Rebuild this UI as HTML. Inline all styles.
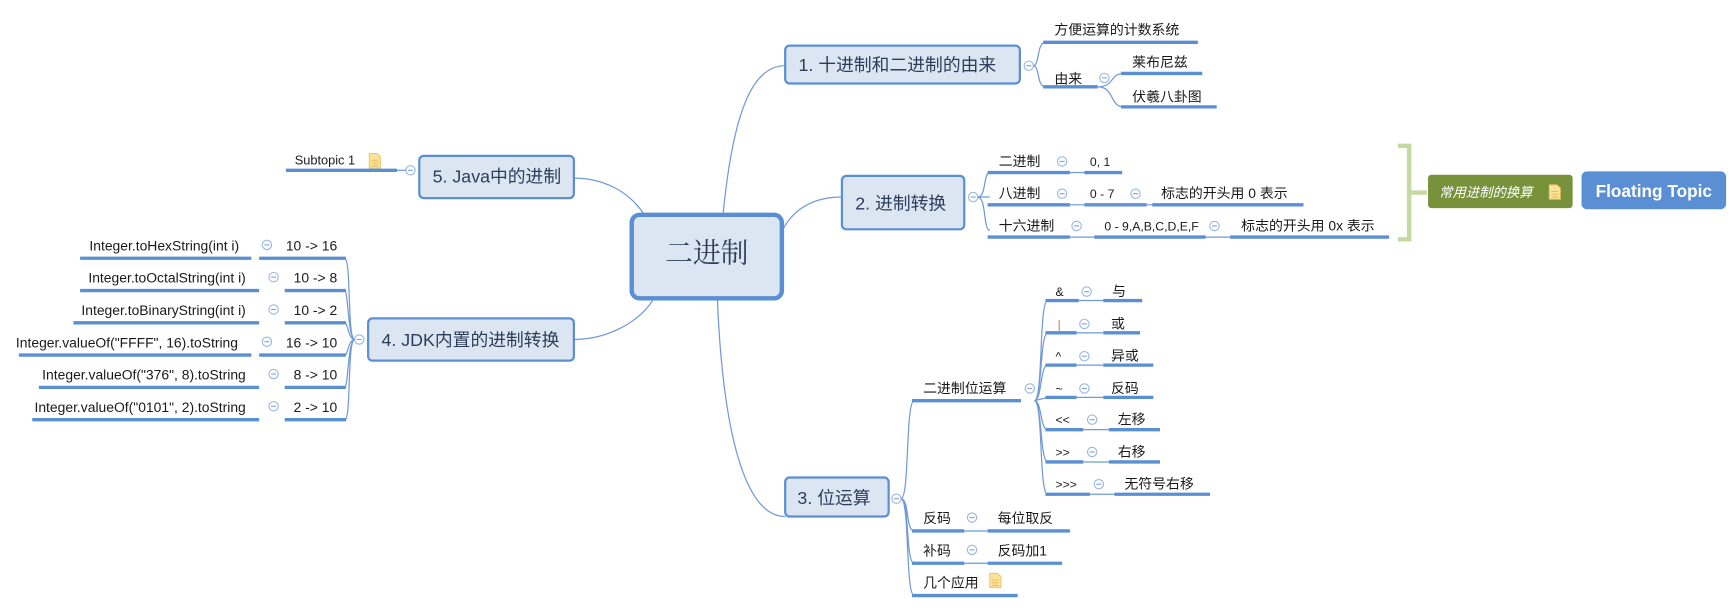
<!DOCTYPE html>
<html><head><meta charset="utf-8"><style>
html,body{margin:0;padding:0;background:#fff;}
svg{display:block;}
text{font-family:"Liberation Sans","Noto Sans CJK SC",sans-serif;fill:#1a1a1a;font-size:12.5px;}
.u{stroke:#5b8fd4;stroke-width:3;}
.c{fill:none;stroke:#6f9ad6;stroke-width:1.1;}
.m{fill:#fff;stroke:#9ab6e2;stroke-width:1;}
.mm{stroke:#7fa2dc;stroke-width:1;}
.n{fill:#dce6f2;stroke:#5b8fd4;stroke-width:2;}
.t{font-size:16px;fill:#2c3e5c;}
</style></head><body>
<svg width="1735" height="610" viewBox="0 0 1560 548" preserveAspectRatio="none" xmlns="http://www.w3.org/2000/svg">
<defs>
<g id="mn"><circle r="4.2" class="m"/><line x1="-2.3" x2="2.3" class="mm"/></g>
<g id="note"><path d="M0 0h7l3 3v10h-10z" fill="#fbe29a" stroke="#e8c060" stroke-width="0.8"/><line x1="2" y1="6" x2="8" y2="6" stroke="#e8c060"/><line x1="2" y1="8.5" x2="8" y2="8.5" stroke="#e8c060"/><line x1="2" y1="11" x2="8" y2="11" stroke="#e8c060"/></g>
</defs>

<!-- main connectors -->
<path class="c" d="M650 194 C660 90 680 59 706 59"/>
<path class="c" d="M704 206 C715 185 735 177 757 177"/>
<path class="c" d="M580 194 C565 170 540 160 516 160"/>
<path class="c" d="M588 268 C575 290 545 305 516 305"/>
<path class="c" d="M645 268 C650 390 670 464 706 464"/>

<!-- central -->
<rect x="568" y="193" width="135" height="75" rx="7" fill="#dce6f2" stroke="#5b8fd4" stroke-width="4"/>
<text x="635.5" y="236" text-anchor="middle" style="font-size:25px;fill:#2c3e5c;font-family:'Liberation Serif','Noto Serif CJK SC',serif">二进制</text>

<!-- node 1 -->
<rect class="n" x="706" y="41" width="211" height="34" rx="4"/>
<text class="t" x="718" y="64">1. 十进制和二进制的由来</text>
<use href="#mn" x="925" y="59"/>
<path class="c" d="M929 59 C935 59 932 38 940 38 M929 59 C935 59 932 78 940 78"/>
<line class="u" x1="938" y1="38" x2="1077" y2="38"/><text x="948" y="31">方便运算的计数系统</text>
<line class="u" x1="938" y1="78" x2="987" y2="78"/><text x="948" y="75">由来</text>
<use href="#mn" x="993" y="70"/>
<path class="c" d="M987 78 C1002 78 998 66 1010 66 M987 78 C1002 78 998 96 1010 96"/>
<line class="u" x1="1008" y1="66" x2="1081" y2="66"/><text x="1018" y="60">莱布尼兹</text>
<line class="u" x1="1008" y1="96" x2="1094" y2="96"/><text x="1018" y="91">伏羲八卦图</text>

<!-- node 2 -->
<rect class="n" x="757" y="158" width="110" height="48" rx="4"/>
<text class="t" x="769" y="188">2. 进制转换</text>
<use href="#mn" x="875" y="177"/>
<path class="c" d="M879 177 C887 177 884 155 890 155 M879 177 L890 177 M879 177 C887 177 884 207 890 207"/>
<line class="u" x1="888" y1="155" x2="962" y2="155"/><text x="898" y="149">二进制</text>
<use href="#mn" x="955" y="145"/>
<line class="u" x1="975" y1="155" x2="1009" y2="155"/><text x="980" y="149" style="font-size:11px">0, 1</text>
<line class="c" x1="962" y1="155" x2="975" y2="155"/>
<line class="u" x1="888" y1="184" x2="962" y2="184"/><text x="898" y="178">八进制</text>
<use href="#mn" x="955" y="174"/>
<line class="u" x1="975" y1="184" x2="1031" y2="184"/><text x="980" y="178" style="font-size:11px">0 - 7</text>
<line class="c" x1="962" y1="184" x2="1036" y2="184"/>
<use href="#mn" x="1021" y="174"/>
<line class="u" x1="1036" y1="184" x2="1172" y2="184"/><text x="1044" y="178">标志的开头用 0 表示</text>
<line class="u" x1="888" y1="213" x2="962" y2="213"/><text x="898" y="207">十六进制</text>
<use href="#mn" x="968" y="203"/>
<line class="c" x1="962" y1="213" x2="1106" y2="213"/>
<line class="u" x1="984" y1="213" x2="1084" y2="213"/><text x="993" y="207" style="font-size:11px">0 - 9,A,B,C,D,E,F</text>
<use href="#mn" x="1092" y="203"/>
<line class="u" x1="1106" y1="213" x2="1249" y2="213"/><text x="1116" y="207">标志的开头用 0x 表示</text>

<!-- bracket & floating -->
<path d="M1257 131 H1267 V215 H1257 M1267 173 H1283" fill="none" stroke="#c5d9a0" stroke-width="4"/>
<rect x="1284" y="157" width="130" height="30" rx="3" fill="#77923b"/>
<text x="1294" y="177" style="fill:#fff;font-style:italic;font-size:12px">常用进制的换算</text>
<use href="#note" x="1393" y="166"/>
<rect x="1422" y="154" width="130" height="34" rx="5" fill="#5b8fd4"/>
<text x="1487" y="177" text-anchor="middle" style="fill:#fff;font-weight:bold;font-size:15.5px">Floating Topic</text>

<!-- node 5 -->
<rect class="n" x="377" y="140" width="139" height="38" rx="4"/>
<text class="t" x="389" y="164">5. Java中的进制</text>
<use href="#mn" x="369" y="153"/>
<line class="u" x1="257" y1="153" x2="357" y2="153"/>
<line class="c" x1="357" y1="153" x2="365" y2="153"/>
<text x="265" y="148" style="font-size:11.5px">Subtopic 1</text>
<use href="#note" x="332" y="138"/>

<!-- node 4 -->
<rect class="n" x="331" y="286" width="185" height="38" rx="4"/>
<text class="t" x="343" y="311">4. JDK内置的进制转换</text>
<use href="#mn" x="323" y="305"/>
<path class="c" d="M319 305 C312 305 316 234 310 232 M319 305 C312 305 316 376 310 378 M319 305 C313 305 313 261 310 261 M319 305 C313 305 313 290 310 290 M319 305 C313 305 313 319 310 319 M319 305 C313 305 313 348 310 348"/>
<g style="font-size:11.5px">
<line class="u" x1="72" y1="232" x2="226" y2="232"/><text x="215" y="225" text-anchor="end">Integer.toHexString(int i)</text>
<use href="#mn" x="240" y="220"/><line class="u" x1="233" y1="232" x2="311" y2="232"/><text x="257" y="225">10 -&gt; 16</text>
<line class="u" x1="72" y1="261" x2="233" y2="261"/><text x="221" y="254" text-anchor="end">Integer.toOctalString(int i)</text>
<use href="#mn" x="246" y="249"/><line class="u" x1="256" y1="261" x2="311" y2="261"/><text x="264" y="254">10 -&gt; 8</text>
<line class="u" x1="66" y1="290" x2="233" y2="290"/><text x="221" y="283" text-anchor="end">Integer.toBinaryString(int i)</text>
<use href="#mn" x="246" y="278"/><line class="u" x1="256" y1="290" x2="311" y2="290"/><text x="264" y="283">10 -&gt; 2</text>
<line class="u" x1="17" y1="319" x2="226" y2="319"/><text x="214" y="312" text-anchor="end">Integer.valueOf("FFFF", 16).toString</text>
<use href="#mn" x="240" y="307"/><line class="u" x1="233" y1="319" x2="311" y2="319"/><text x="257" y="312">16 -&gt; 10</text>
<line class="u" x1="35" y1="348" x2="233" y2="348"/><text x="221" y="341" text-anchor="end">Integer.valueOf("376", 8).toString</text>
<use href="#mn" x="246" y="336"/><line class="u" x1="256" y1="348" x2="311" y2="348"/><text x="264" y="341">8 -&gt; 10</text>
<line class="u" x1="29" y1="377" x2="233" y2="377"/><text x="221" y="370" text-anchor="end">Integer.valueOf("0101", 2).toString</text>
<use href="#mn" x="246" y="365"/><line class="u" x1="256" y1="377" x2="311" y2="377"/><text x="264" y="370">2 -&gt; 10</text>
</g>

<!-- node 3 -->
<rect class="n" x="706" y="429" width="93" height="35" rx="4"/>
<text class="t" x="717" y="453">3. 位运算</text>
<use href="#mn" x="806" y="448"/>
<path class="c" d="M810 448 C818 448 814 360 822 360 M810 448 C818 448 814 477 822 477 M810 448 C818 448 814 506 822 506 M810 448 C818 448 814 535 822 535"/>
<line class="u" x1="820" y1="360" x2="918" y2="360"/><text x="830" y="353">二进制位运算</text>
<use href="#mn" x="926" y="349"/>
<path class="c" d="M930 360 C938 360 934 270 942 270 M930 360 C938 360 934 444 942 444 M930 360 C937 360 935 299 942 299 M930 360 C937 360 935 328 942 328 M930 360 L942 357 M930 360 C937 360 935 386 942 386 M930 360 C937 360 935 415 942 415"/>
<line class="u" x1="940" y1="270" x2="970" y2="270"/><text x="949" y="266" style="font-size:11px">&amp;</text><use href="#mn" x="977" y="262"/><line class="c" x1="970" y1="270" x2="992" y2="270"/><line class="u" x1="992" y1="270" x2="1027" y2="270"/><text x="1000" y="266">与</text>
<line class="u" x1="940" y1="299" x2="968" y2="299"/><text x="951" y="295" style="font-size:11px;fill:#c08040">|</text><use href="#mn" x="975" y="291"/><line class="c" x1="968" y1="299" x2="992" y2="299"/><line class="u" x1="992" y1="299" x2="1025" y2="299"/><text x="999" y="295">或</text>
<line class="u" x1="940" y1="328" x2="968" y2="328"/><text x="949" y="324" style="font-size:11px">^</text><use href="#mn" x="975" y="320"/><line class="c" x1="968" y1="328" x2="992" y2="328"/><line class="u" x1="992" y1="328" x2="1037" y2="328"/><text x="999" y="324">异或</text>
<line class="u" x1="940" y1="357" x2="968" y2="357"/><text x="949" y="353" style="font-size:11px">~</text><use href="#mn" x="975" y="349"/><line class="c" x1="968" y1="357" x2="992" y2="357"/><line class="u" x1="992" y1="357" x2="1037" y2="357"/><text x="999" y="353">反码</text>
<line class="u" x1="940" y1="386" x2="974" y2="386"/><text x="949" y="381" style="font-size:11px">&lt;&lt;</text><use href="#mn" x="982" y="377"/><line class="c" x1="974" y1="386" x2="997" y2="386"/><line class="u" x1="997" y1="386" x2="1043" y2="386"/><text x="1005" y="381">左移</text>
<line class="u" x1="940" y1="415" x2="974" y2="415"/><text x="949" y="410" style="font-size:11px">&gt;&gt;</text><use href="#mn" x="982" y="406"/><line class="c" x1="974" y1="415" x2="997" y2="415"/><line class="u" x1="997" y1="415" x2="1043" y2="415"/><text x="1005" y="410">右移</text>
<line class="u" x1="940" y1="444" x2="980" y2="444"/><text x="949" y="439" style="font-size:11px">&gt;&gt;&gt;</text><use href="#mn" x="988" y="435"/><line class="c" x1="980" y1="444" x2="1002" y2="444"/><line class="u" x1="1002" y1="444" x2="1088" y2="444"/><text x="1011" y="439">无符号右移</text>
<line class="u" x1="820" y1="477" x2="867" y2="477"/><text x="830" y="470">反码</text><use href="#mn" x="874" y="465"/><line class="c" x1="867" y1="477" x2="888" y2="477"/><line class="u" x1="888" y1="477" x2="962" y2="477"/><text x="897" y="470">每位取反</text>
<line class="u" x1="820" y1="506" x2="867" y2="506"/><text x="830" y="499">补码</text><use href="#mn" x="874" y="494"/><line class="c" x1="867" y1="506" x2="888" y2="506"/><line class="u" x1="888" y1="506" x2="955" y2="506"/><text x="897" y="499">反码加1</text>
<line class="u" x1="820" y1="535" x2="915" y2="535"/><text x="830" y="528">几个应用</text><use href="#note" x="890" y="515"/>
</svg>
</body></html>
